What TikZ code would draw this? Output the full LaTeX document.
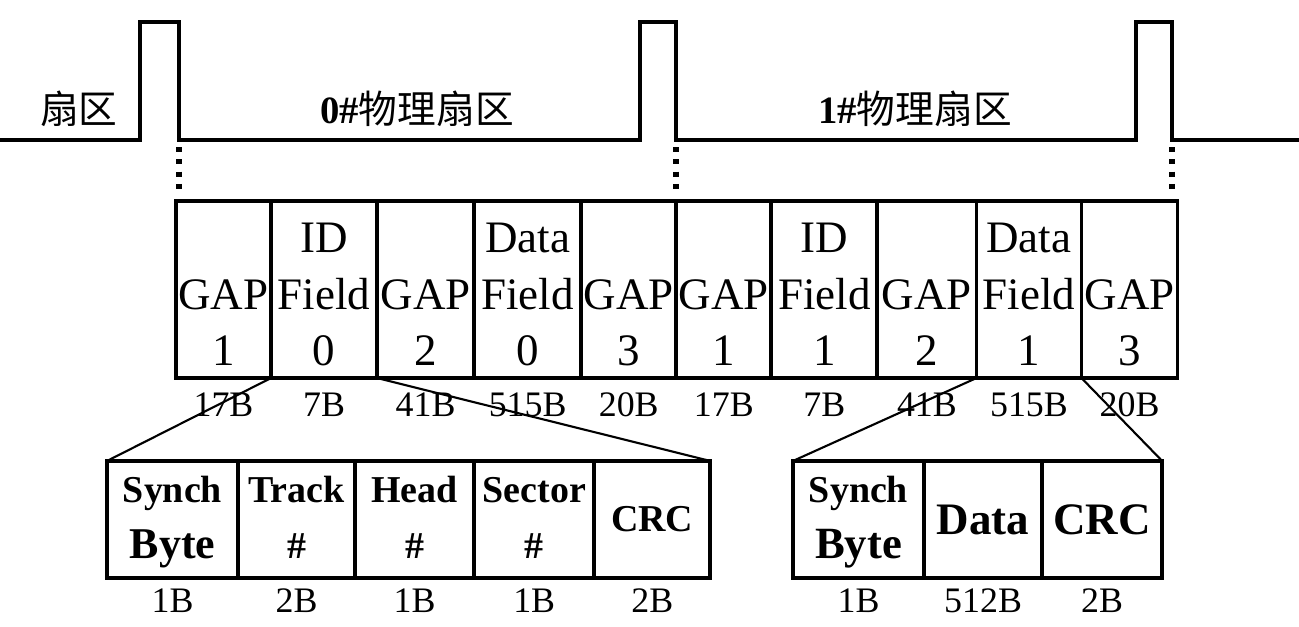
\documentclass[tikz,border=0pt]{standalone}
\usepackage{fontspec}
\setmainfont{Liberation Serif}
\newfontfamily\cjk{Noto Sans CJK SC}
\usetikzlibrary{positioning}

\tikzset{
  cell/.style={draw, line width=1.1pt, minimum height=1.77cm, inner sep=0pt, outer sep=0pt,
    align=center, font=\fontsize{12.8}{16.1}\selectfont},
  subcell/.style={draw, line width=1.1pt, minimum height=1.17cm, inner sep=0pt, outer sep=0pt,
    align=center, font=\bfseries\fontsize{10.8}{15.65}\selectfont},
  bigsub/.style={font=\bfseries\fontsize{12.8}{15.65}\selectfont},
  sizelab/.style={inner sep=0pt, font=\fontsize{10.2}{12}\selectfont},
  sectlab/.style={inner sep=0pt, font=\fontsize{11}{13}\selectfont},
  wave/.style={line width=1.1pt},
  dotline/.style={line width=1.6pt, dash pattern=on 1.4pt off 2.1pt},
  link/.style={line width=0.6pt},
}

\begin{document}
\begin{tikzpicture}[x=0.01cm, y=-0.01cm]
    \useasboundingbox (0,0) rectangle (1299,627);

    % track signal
    \coordinate (p0) at (179,140);
    \coordinate (p1) at (676,140);
    \coordinate (p2) at (1172,140);
    \draw[wave] (0,140) -| (140,22) -| (p0) -| (640,22) -| (p1) -| (1136,22) -| (p2) -- (1299,140);

    \node[sectlab] (prev) at (79,109) {\cjk 扇区};
    \node[sectlab] (sec0) at (417,109) {\textbf{0\#}\cjk 物理扇区};
    \node[sectlab] (sec1) at (915,109) {\textbf{1\#}\cjk 物理扇区};

    \coordinate (q0) at (179,196);
    \coordinate (q1) at (676,196);
    \coordinate (q2) at (1172,196);
    \draw[dotline] ([yshift=-2pt]p0) -- (q0);
    \draw[dotline] ([yshift=-2pt]p1) -- (q1);
    \draw[dotline] ([yshift=-2pt]p2) -- (q2);

    % sector fields
    \node[cell, minimum width=0.95cm] (gapA0) at (223.5,289.5) {\strut\\GAP\\1};
    \node[cell, minimum width=1.06cm, right=0pt of gapA0] (id0) {\strut ID\\Field\\0};
    \node[cell, minimum width=0.97cm, right=0pt of id0] (gapB0) {\strut\\GAP\\2};
    \node[cell, minimum width=1.07cm, right=0pt of gapB0] (df0) {\strut Data\\Field\\0};
    \node[cell, minimum width=0.95cm, right=0pt of df0] (gapC0) {\strut\\GAP\\3};
    \node[cell, minimum width=0.95cm, right=0pt of gapC0] (gapA1) {\strut\\GAP\\1};
    \node[cell, minimum width=1.06cm, right=0pt of gapA1] (id1) {\strut ID\\Field\\1};
    \node[cell, minimum width=0.99cm, right=0pt of id1] (gapB1) {\strut\\GAP\\2};
    \node[cell, minimum width=1.05cm, right=0pt of gapB1] (df1) {\strut Data\\Field\\1};
    \node[cell, minimum width=0.96cm, right=0pt of df1] (gapC1) {\strut\\GAP\\3};

    \coordinate (row1) at (0,405);
    \node[sizelab] at (gapA0 |- row1) {17B};
    \node[sizelab] at (id0 |- row1) {7B};
    \node[sizelab] at (gapB0 |- row1) {41B};
    \node[sizelab] at (df0 |- row1) {515B};
    \node[sizelab] at (gapC0 |- row1) {20B};
    \node[sizelab] at (gapA1 |- row1) {17B};
    \node[sizelab] at (id1 |- row1) {7B};
    \node[sizelab] at (gapB1 |- row1) {41B};
    \node[sizelab] at (df1 |- row1) {515B};
    \node[sizelab] at (gapC1 |- row1) {20B};

    % ID field
    \node[subcell, minimum width=1.31cm] (sb0) at (172.5,519.5)
        {\strut Synch\\\strut{\fontsize{12.5}{15.65}\selectfont Byte}};
    \node[subcell, minimum width=1.17cm, right=0pt of sb0] (trk0) {\strut Track\\\strut\#};
    \node[subcell, minimum width=1.19cm, right=0pt of trk0] (hd0) {\strut Head\\\strut\#};
    \node[subcell, minimum width=1.20cm, right=0pt of hd0] (sct0) {\strut Sector\\\strut\#};
    \node[subcell, minimum width=1.16cm, right=0pt of sct0] (crc0) {CRC};

    % data field
    \node[subcell, minimum width=1.31cm] (sb1) at (858.5,519.5)
        {\strut Synch\\\strut{\fontsize{12.7}{15.65}\selectfont Byte}};
    \node[subcell, bigsub, minimum width=1.18cm, right=0pt of sb1] (dat1) {Data};
    \node[subcell, bigsub, minimum width=1.20cm, right=0pt of dat1] (crc1) {CRC};

    \coordinate (row2) at (0,601);
    \node[sizelab] at (sb0 |- row2) {1B};
    \node[sizelab] at (trk0 |- row2) {2B};
    \node[sizelab] at (hd0 |- row2) {1B};
    \node[sizelab] at (sct0 |- row2) {1B};
    \node[sizelab] at (crc0 |- row2) {2B};
    \node[sizelab] at (sb1 |- row2) {1B};
    \node[sizelab] at (dat1 |- row2) {512B};
    \node[sizelab] at (crc1 |- row2) {2B};

    \draw[link] (id0.south west) -- (sb0.north west);
    \draw[link] (id0.south east) -- (crc0.north east);
    \draw[link] (df1.south west) -- (sb1.north west);
    \draw[link] (df1.south east) -- (crc1.north east);
\end{tikzpicture}
\end{document}
